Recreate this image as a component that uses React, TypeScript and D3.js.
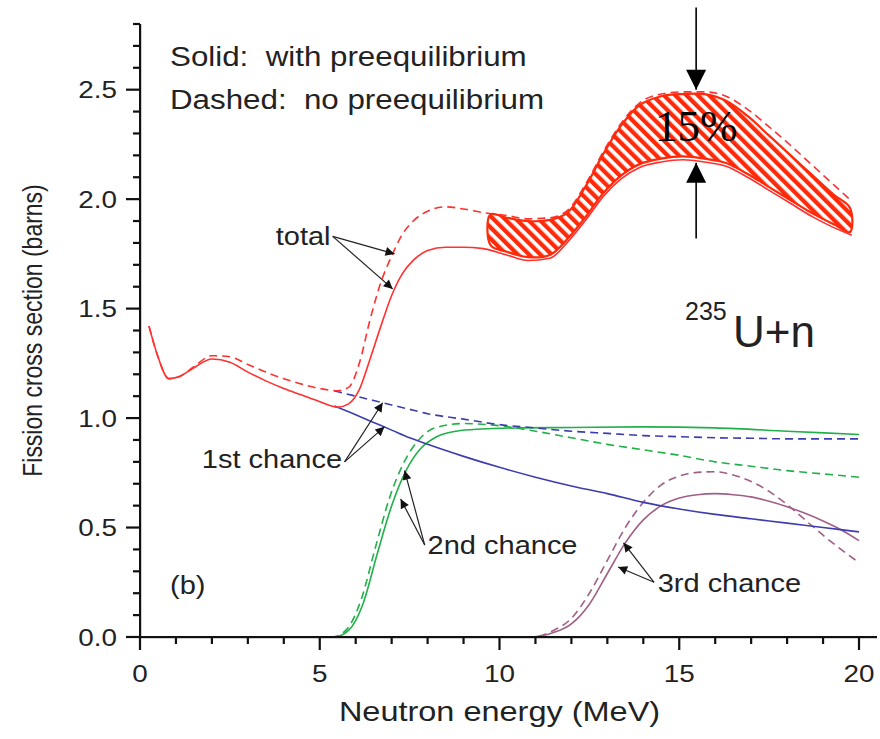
import { scaleLinear, line, curveMonotoneX, curveCatmullRomClosed, range } from 'd3';

// ── Data ──
const TOTAL_E = [0.25, 0.5, 0.8, 1.1, 1.5, 2.0, 2.5, 3.0, 3.5, 4.0, 4.5, 5.0, 5.5, 5.8, 6.1, 6.4, 6.7, 7.0, 7.3, 7.6, 8.0, 8.5, 9.0, 9.5, 10.2, 10.8, 11.4, 11.9, 12.4, 12.9, 13.4, 13.9, 14.5, 15.1, 15.7, 16.3, 16.9, 17.5, 18.1, 18.7, 19.3, 19.8];
const TOTAL_SOLID = [1.42, 1.28, 1.18, 1.19, 1.23, 1.27, 1.255, 1.21, 1.17, 1.135, 1.105, 1.075, 1.05, 1.065, 1.13, 1.27, 1.42, 1.56, 1.66, 1.72, 1.765, 1.78, 1.78, 1.775, 1.745, 1.72, 1.73, 1.805, 1.905, 2.015, 2.095, 2.145, 2.17, 2.18, 2.17, 2.15, 2.10, 2.04, 1.98, 1.92, 1.87, 1.835];
const TOTAL_DASHED = [1.42, 1.28, 1.18, 1.19, 1.235, 1.285, 1.28, 1.245, 1.21, 1.18, 1.155, 1.135, 1.125, 1.14, 1.25, 1.45, 1.62, 1.74, 1.84, 1.9, 1.945, 1.965, 1.955, 1.94, 1.925, 1.91, 1.915, 1.95, 2.07, 2.22, 2.35, 2.44, 2.48, 2.49, 2.49, 2.47, 2.41, 2.33, 2.245, 2.155, 2.065, 1.99];

const BAND_E = [9.75, 10.2, 10.8, 11.4, 11.9, 12.4, 12.9, 13.4, 13.9, 14.5, 15.1, 15.7, 16.3, 16.9, 17.5, 18.1, 18.7, 19.3, 19.75];
const BAND_UPPER = [1.93, 1.915, 1.90, 1.905, 1.94, 2.06, 2.21, 2.34, 2.43, 2.47, 2.48, 2.48, 2.45, 2.38, 2.29, 2.20, 2.11, 2.02, 1.96];
const BAND_LOWER = [1.79, 1.76, 1.735, 1.745, 1.82, 1.92, 2.03, 2.11, 2.16, 2.185, 2.195, 2.185, 2.165, 2.115, 2.055, 1.995, 1.935, 1.885, 1.85];

const FIRST_E = [5.4, 6.0, 6.5, 7.0, 7.5, 8.0, 9.0, 10.0, 11.0, 12.0, 13.0, 14.0, 15.0, 16.0, 17.0, 18.0, 19.0, 20.0];
const FIRST_SOLID = [1.055, 1.015, 0.98, 0.945, 0.91, 0.88, 0.825, 0.775, 0.73, 0.69, 0.655, 0.615, 0.585, 0.56, 0.54, 0.52, 0.50, 0.48];
const FIRST_DASHED = [1.125, 1.10, 1.08, 1.06, 1.04, 1.02, 0.995, 0.97, 0.955, 0.94, 0.93, 0.92, 0.915, 0.91, 0.908, 0.905, 0.905, 0.905];

const SECOND_SOLID_E = [0.25, 5.4, 5.8, 6.2, 6.6, 7.0, 7.4, 7.8, 8.2, 8.8, 9.5, 10.5, 12.0, 14.0, 16.0, 18.0, 20.0];
const SECOND_SOLID = [0, 0, 0.03, 0.15, 0.38, 0.60, 0.76, 0.86, 0.91, 0.94, 0.95, 0.955, 0.957, 0.96, 0.955, 0.94, 0.925];
const SECOND_DASHED_E = [0.25, 5.35, 5.75, 6.15, 6.55, 6.95, 7.35, 7.75, 8.2, 9.0, 10, 11, 12, 13, 14, 15, 16, 17, 18, 19, 20];
const SECOND_DASHED = [0, 0, 0.035, 0.17, 0.41, 0.64, 0.80, 0.90, 0.955, 0.975, 0.965, 0.94, 0.91, 0.88, 0.855, 0.83, 0.80, 0.78, 0.76, 0.745, 0.73];

const THIRD_E = [0.25, 10.9, 11.5, 12, 12.5, 13, 13.5, 14, 14.5, 15, 15.5, 16, 16.5, 17, 17.5, 18, 18.5, 19, 19.5, 20];
const THIRD_SOLID = [0, 0, 0.02, 0.06, 0.15, 0.29, 0.43, 0.535, 0.60, 0.635, 0.65, 0.655, 0.65, 0.64, 0.62, 0.595, 0.565, 0.53, 0.49, 0.44];
const THIRD_DASHED = [0, 0, 0.03, 0.085, 0.20, 0.35, 0.50, 0.615, 0.695, 0.735, 0.752, 0.755, 0.74, 0.71, 0.665, 0.605, 0.535, 0.465, 0.40, 0.34];

const X_MAJOR = [0, 5, 10, 15, 20];
const X_MINOR = range(0, 21);
const Y_MAJOR = [0, 0.5, 1.0, 1.5, 2.0, 2.5];
const Y_MINOR = range(0, 29).map((i) => i / 10);

// callouts: label anchor + arrow tips, in data units
const CALLOUTS = [
  { text: 'total', tx: 5.3, ty: 1.79, anchor: 'end', from: [5.36, 1.83], tips: [[7.08, 1.75], [7.03, 1.59]] },
  { text: '1st chance', tx: 1.72, ty: 0.77, anchor: 'start', from: [5.69, 0.80], tips: [[6.75, 1.07], [6.8, 0.96]] },
  { text: '2nd chance', tx: 8.0, ty: 0.38, anchor: 'start', from: [7.92, 0.42], tips: [[7.36, 0.76], [7.25, 0.63]] },
  { text: '3rd chance', tx: 14.4, ty: 0.205, anchor: 'start', from: [14.3, 0.25], tips: [[13.45, 0.43], [13.3, 0.32]] },
];

const W = 880;
const H = 739;
const X0 = 140;
const X20 = 859;
const Y0 = 637;
const YTOP = 24;
const SX = 1.16;                 // the figure is stretched horizontally

const RED = '#ff3030';
const BAND_RED = '#ff2a0a';
const BLUE = '#3d3daf';
const GREEN = '#22b04a';
const PURPLE = '#a05f86';
const INK = '#222';
const AXIS = '#111';
const FONT = "'Liberation Sans', Arial, sans-serif";
const DASH = '8 5';

const zip = (xs: number[], ys: number[]) => xs.map((x, i) => [x, ys[i]] as [number, number]);

// horizontally stretched label
function T({ x, y, size, anchor = 'start', children }: { x: number; y: number; size: number; anchor?: string; children: any }) {
  return (
    <text
      transform={`translate(${x},${y}) scale(${SX},1)`}
      textAnchor={anchor as any}
      fontFamily={FONT}
      fontSize={size}
      fill={INK}
      style={{ whiteSpace: 'pre' }}
    >
      {children}
    </text>
  );
}

export default function App() {
  const x = scaleLinear().domain([0, 20]).range([X0, X20]);
  const y = scaleLinear().domain([0, 2.8]).range([Y0, YTOP]);

  const path = line<[number, number]>().x((d) => x(d[0])).y((d) => y(d[1])).curve(curveMonotoneX);
  const band = line<[number, number]>().x((d) => x(d[0])).y((d) => y(d[1])).curve(curveCatmullRomClosed.alpha(0.5));
  const bandPts = [...zip(BAND_E, BAND_UPPER), ...zip(BAND_E, BAND_LOWER).reverse()];

  const isMajorY = (v: number) => Y_MAJOR.some((m) => Math.abs(m - v) < 1e-6);

  const lineProps = (color: string, dashed: boolean) => ({
    fill: 'none',
    stroke: color,
    strokeWidth: 1.6,
    strokeDasharray: dashed ? DASH : undefined,
  });

  return (
    <svg width={W} height={H} style={{ position: 'absolute', left: 0, top: 0, background: '#fff' }}>
      <defs>
        <pattern id="hatch" patternUnits="userSpaceOnUse" width={8} height={8} patternTransform="rotate(-45)">
          <rect width={8} height={8} fill="#fff" />
          <rect width={4.3} height={8} fill={BAND_RED} />
        </pattern>
        <marker id="ah" viewBox="0 0 10 10" refX={10} refY={5} markerWidth={16} markerHeight={9} markerUnits="userSpaceOnUse" orient="auto">
          <path d="M0,0 L10,5 L0,10 Z" fill="#111" />
        </marker>
        <marker id="big" viewBox="0 0 10 10" refX={10} refY={5} markerWidth={22} markerHeight={20} markerUnits="userSpaceOnUse" orient="auto">
          <path d="M0,0 L10,5 L0,10 Z" fill="#000" />
        </marker>
      </defs>

      {/* legend */}
      <T x={170} y={66} size={27}>Solid:  with preequilibrium</T>
      <T x={170} y={109} size={27}>Dashed:  no preequilibrium</T>

      {/* curves: chances first, then total */}
      <path d={path(zip(SECOND_DASHED_E, SECOND_DASHED)) ?? ''} {...lineProps(GREEN, true)} />
      <path d={path(zip(SECOND_SOLID_E, SECOND_SOLID)) ?? ''} {...lineProps(GREEN, false)} />
      <path d={path(zip(THIRD_E, THIRD_DASHED)) ?? ''} {...lineProps(PURPLE, true)} />
      <path d={path(zip(THIRD_E, THIRD_SOLID)) ?? ''} {...lineProps(PURPLE, false)} />
      <path d={path(zip(FIRST_E, FIRST_DASHED)) ?? ''} {...lineProps(BLUE, true)} />
      <path d={path(zip(FIRST_E, FIRST_SOLID)) ?? ''} {...lineProps(BLUE, false)} />
      <path d={path(zip(TOTAL_E, TOTAL_DASHED)) ?? ''} {...lineProps(RED, true)} />
      <path d={path(zip(TOTAL_E, TOTAL_SOLID)) ?? ''} {...lineProps(RED, false)} />

      {/* 15% band */}
      <path d={band(bandPts) ?? ''} fill="url(#hatch)" stroke={BAND_RED} strokeWidth={2.2} strokeLinejoin="round" />

      <path d={`M${x(15.47)},${y(2.875)}V${y(2.5)}`} stroke="#000" strokeWidth={1.6} markerEnd="url(#big)" />
      <path d={`M${x(15.47)},${y(1.82)}V${y(2.166)}`} stroke="#000" strokeWidth={1.6} markerEnd="url(#big)" />
      <text x={x(15.47)} y={y(2.265)} textAnchor="middle" fontFamily="'Liberation Serif', 'Times New Roman', serif" fontSize={45} fill="#000">15%</text>

      {/* callouts */}
      {CALLOUTS.map((c) => (
        <g key={c.text}>
          <T x={x(c.tx)} y={y(c.ty)} size={25} anchor={c.anchor}>{c.text}</T>
          {c.tips.map((t, i) => (
            <line key={i} x1={x(c.from[0])} y1={y(c.from[1])} x2={x(t[0])} y2={y(t[1])} stroke={INK} strokeWidth={1.2} markerEnd="url(#ah)" />
          ))}
        </g>
      ))}

      {/* reaction label */}
      <text fontFamily={FONT} fill={INK}>
        <tspan x={685} y={320} fontSize={25}>235</tspan>
        <tspan x={733} y={347} fontSize={44}>U+n</tspan>
      </text>
      <T x={170} y={594} size={25}>(b)</T>

      {/* axes */}
      <rect x={X0 - 1} y={YTOP} width={2.2} height={Y0 - YTOP + 1} fill={AXIS} />
      <rect x={X0 - 1} y={Y0 - 1} width={877 - X0 + 1} height={2.2} fill={AXIS} />
      {X_MINOR.map((v) => (
        <rect key={`xt${v}`} x={x(v) - 1.1} y={Y0} width={2.2} height={X_MAJOR.includes(v) ? 13 : 7} fill={AXIS} />
      ))}
      {Y_MINOR.map((v) => (
        <rect key={`yt${v}`} x={X0 - (isMajorY(v) ? 14 : 7)} y={y(v) - 1.1} width={isMajorY(v) ? 14 : 7} height={2.2} fill={AXIS} />
      ))}

      {X_MAJOR.map((v) => (
        <T key={`xl${v}`} x={x(v)} y={682} size={24} anchor="middle">{String(v)}</T>
      ))}
      {Y_MAJOR.map((v) => (
        <T key={`yl${v}`} x={117} y={y(v) + 8.5} size={24} anchor="end">{v.toFixed(1)}</T>
      ))}

      <T x={x(10)} y={721} size={28} anchor="middle">Neutron energy (MeV)</T>
      <text
        transform={`translate(42,${y(1.4)}) scale(1.2,1) rotate(-90)`}
        textAnchor="middle"
        fontFamily={FONT}
        fontSize={23}
        fill={INK}
      >
        Fission cross section (barns)
      </text>
    </svg>
  );
}
